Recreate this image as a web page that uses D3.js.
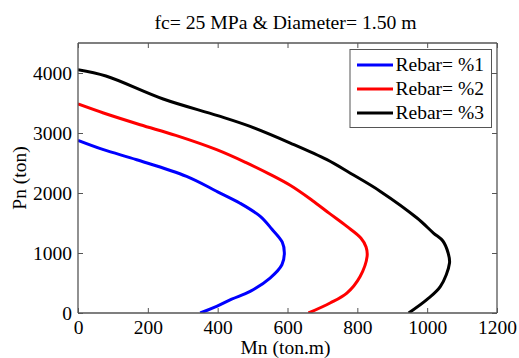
<!DOCTYPE html>
<html><head><meta charset="utf-8">
<script src="https://cdn.jsdelivr.net/npm/d3@7"></script>
<style>body{margin:0;background:#fff;}</style>
</head><body><svg id="c" width="519" height="358"></svg>
<script>
const title = "fc= 25 MPa & Diameter= 1.50 m";
const xLabel = "Mn (ton.m)";
const yLabel = "Pn (ton)";
const seriesNames = ["Rebar= %1", "Rebar= %2", "Rebar= %3"];
const seriesColors = ["#0000ff", "#ff0000", "#000000"];
const xTicks = [0, 200, 400, 600, 800, 1000, 1200];
const yTicks = [0, 1000, 2000, 3000, 4000];
const mn1 = [0, 73, 168, 311, 400, 464, 522, 555, 585, 591, 584, 550, 493, 440, 397, 350];
const pn1 = [2877, 2722, 2555, 2277, 2020, 1830, 1610, 1400, 1180, 1000, 805, 583, 360, 230, 110, 0];
const mn2 = [0, 73, 178, 280, 397, 480, 550, 610, 670, 720, 770, 810, 825, 828, 808, 770, 722, 660];
const pn2 = [3483, 3333, 3138, 2960, 2722, 2510, 2310, 2120, 1880, 1660, 1443, 1250, 1100, 943, 610, 333, 167, 0];
const mn3 = [0, 80, 244, 400, 493, 608, 713, 780, 866, 971, 1018, 1045, 1060, 1064, 1038, 999, 947];
const pn3 = [4055, 3950, 3567, 3290, 3110, 2833, 2555, 2330, 2027, 1583, 1333, 1200, 1000, 833, 443, 222, 0];
const series = [[mn1, pn1], [mn2, pn2], [mn3, pn3]];

const svg = d3.select("#c");
const L = 78, R = 497, T = 43, B = 313;
const x = d3.scaleLinear().domain([0, 1200]).range([L, R]);
const y = d3.scaleLinear().domain([0, 4500]).range([B, T]);
const fs = 19.5;
const FF = "Liberation Serif";
const axisColor = "#555";

svg.append("clipPath").attr("id", "clp").append("rect")
  .attr("x", L).attr("y", T).attr("width", R - L).attr("height", B - T);

const line = d3.line().x(d => x(d[0])).y(d => y(d[1])).curve(d3.curveCatmullRom.alpha(0.5));
series.forEach((s, i) => {
  const pts = s[0].map((v, j) => [v, s[1][j]]);
  svg.append("path").attr("d", line(pts)).attr("fill", "none")
    .attr("stroke", seriesColors[i]).attr("stroke-width", 3)
    .attr("stroke-linejoin", "round").attr("clip-path", "url(#clp)");
});

const tl = 5;
const axB = svg.append("g").attr("transform", `translate(0,${B})`)
  .call(d3.axisBottom(x).tickValues(xTicks).tickSize(-tl).tickPadding(7).tickFormat(d3.format("d")));
const axT = svg.append("g").attr("transform", `translate(0,${T})`)
  .call(d3.axisTop(x).tickValues(xTicks).tickSize(-tl).tickFormat(""));
const axL = svg.append("g").attr("transform", `translate(${L},0)`)
  .call(d3.axisLeft(y).tickValues(yTicks).tickSize(-tl).tickPadding(6).tickFormat(d3.format("d")));
const axR = svg.append("g").attr("transform", `translate(${R},0)`)
  .call(d3.axisRight(y).tickValues(yTicks).tickSize(-tl).tickFormat(""));
[axB, axT, axL, axR].forEach(a => {
  a.attr("font-family", FF).attr("font-size", fs);
  a.select(".domain").attr("stroke", axisColor).attr("stroke-width", 1.3);
  a.selectAll(".tick line").attr("stroke", axisColor);
  a.selectAll("text").attr("font-family", FF).attr("font-size", fs).attr("fill", "#000");
});
axB.selectAll(".domain").attr("d", `M${L},0H${R}`);
axT.selectAll(".domain").attr("d", `M${L},0H${R}`);
axL.selectAll(".domain").attr("d", `M0,${B}V${T}`);
axR.selectAll(".domain").attr("d", `M0,${B}V${T}`);

svg.append("text").attr("x", (L + R) / 2 - 2).attr("y", 29).attr("text-anchor", "middle")
  .attr("font-family", FF).attr("font-size", 19.7).text(title);
svg.append("text").attr("x", (L + R) / 2 - 2).attr("y", 354).attr("text-anchor", "middle")
  .attr("font-family", FF).attr("font-size", fs).text(xLabel);
svg.append("text").attr("transform", `translate(26,${(T + B) / 2}) rotate(-90)`)
  .attr("text-anchor", "middle").attr("font-family", FF).attr("font-size", fs).text(yLabel);

const lg = svg.append("g");
lg.append("rect").attr("x", 350).attr("y", 49.5).attr("width", 141.5).attr("height", 78)
  .attr("fill", "#fff").attr("stroke", axisColor).attr("stroke-width", 1);
seriesNames.forEach((n, i) => {
  const yy = 65 + i * 24;
  lg.append("line").attr("x1", 357).attr("x2", 393).attr("y1", yy).attr("y2", yy)
    .attr("stroke", seriesColors[i]).attr("stroke-width", 3);
  lg.append("text").attr("x", 395.5).attr("y", yy).attr("dy", "0.33em")
    .attr("font-family", FF).attr("font-size", fs).text(n);
});
</script></body></html>
